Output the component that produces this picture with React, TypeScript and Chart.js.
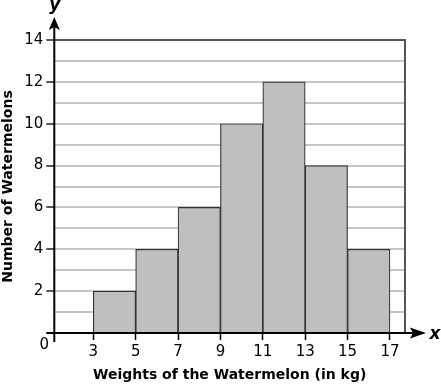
import { useEffect, useRef } from 'react';
import { Chart, registerables } from 'chart.js';

Chart.register(...registerables);

const binStarts = [3, 5, 7, 9, 11, 13, 15];
const binEnds = [5, 7, 9, 11, 13, 15, 17];
const counts = [2, 4, 6, 10, 12, 8, 4];
const xTickValues = [3, 5, 7, 9, 11, 13, 15, 17];
const yTickLabels = [2, 4, 6, 8, 10, 12, 14];
const xTitle = 'Weights of the Watermelon (in kg)';
const yTitle = 'Number of Watermelons';

const FONT = '"DejaVu Sans", Verdana, sans-serif';

const decor = {
  id: 'decor',
  afterDraw(chart: any) {
    const { ctx, chartArea: a } = chart;
    const x0 = a.left;
    const y0 = a.bottom;
    ctx.save();
    // right border
    ctx.strokeStyle = '#555';
    ctx.lineWidth = 2;
    ctx.beginPath();
    ctx.moveTo(a.right, a.top - 1);
    ctx.lineTo(a.right, y0);
    ctx.stroke();
    // y axis
    ctx.strokeStyle = '#000';
    ctx.fillStyle = '#000';
    ctx.lineWidth = 2;
    ctx.beginPath();
    ctx.moveTo(x0, y0 + 9);
    ctx.lineTo(x0, a.top - 14);
    ctx.stroke();
    ctx.beginPath();
    ctx.moveTo(x0, a.top - 23);
    ctx.lineTo(x0 + 5.5, a.top - 10);
    ctx.lineTo(x0, a.top - 13);
    ctx.lineTo(x0 - 5.5, a.top - 10);
    ctx.closePath();
    ctx.fill();
    // x axis
    ctx.beginPath();
    ctx.moveTo(x0 - 8, y0);
    ctx.lineTo(a.right + 10, y0);
    ctx.stroke();
    ctx.beginPath();
    ctx.moveTo(a.right + 21, y0);
    ctx.lineTo(a.right + 5, y0 - 5.5);
    ctx.lineTo(a.right + 8, y0);
    ctx.lineTo(a.right + 5, y0 + 5.5);
    ctx.closePath();
    ctx.fill();
    // labels
    ctx.font = `italic bold 17px ${FONT}`;
    ctx.textAlign = 'center';
    ctx.textBaseline = 'alphabetic';
    ctx.fillText('x', a.right + 30, y0 + 6);
    ctx.fillText('y', x0 + 0.5, 10);
    ctx.font = `15px ${FONT}`;
    ctx.textBaseline = 'middle';
    ctx.fillText('0', x0 - 10, y0 + 12);
    ctx.restore();
  },
};

export default function App() {
  const ref = useRef<HTMLCanvasElement | null>(null);
  useEffect(() => {
    if (!ref.current) return;
    const data = binStarts.map((s, i) => ({ x: (s + binEnds[i]) / 2, y: counts[i] }));
    const chart = new Chart(ref.current, {
      type: 'bar',
      data: {
        datasets: [
          {
            data: data as any,
            backgroundColor: '#bfbfbf',
            borderColor: '#333',
            borderWidth: 1.2,
            barPercentage: 1,
            categoryPercentage: 1,
          },
        ],
      },
      plugins: [decor],
      options: {
        animation: false,
        responsive: false,
        layout: { padding: { left: 0, right: 36, top: 40, bottom: 0 } },
        plugins: { legend: { display: false }, tooltip: { enabled: false } },
        scales: {
          x: {
            type: 'linear',
            min: 1.16,
            max: 17.71,
            offset: false,
            afterFit: (s: any) => {
              s.height = 51;
            },
            afterBuildTicks: (s: any) => {
              s.ticks = xTickValues.map((v) => ({ value: v }));
            },
            border: { display: false },
            grid: {
              drawOnChartArea: false,
              drawTicks: true,
              tickLength: 7,
              tickColor: '#000',
              tickWidth: 1.5,
              offset: false,
            },
            ticks: {
              autoSkip: false,
              maxRotation: 0,
              padding: 3,
              color: '#000',
              font: { family: FONT, size: 15 },
              callback: (v: any) => String(v),
            },
            title: {
              display: true,
              text: xTitle,
              color: '#000',
              padding: 0,
              font: { family: FONT, size: 14, weight: 'bold' },
            },
          },
          y: {
            type: 'linear',
            min: 0,
            max: 14,
            afterFit: (s: any) => {
              s.width = 54.3;
            },
            border: { display: false },
            grid: {
              color: (c: any) =>
                c.tick.value === 0 ? 'rgba(0,0,0,0)' : c.tick.value === 14 ? '#555' : '#c6c6c6',
              lineWidth: 2,
              tickLength: 8,
              tickWidth: 1.5,
              tickColor: (c: any) => (yTickLabels.includes(c.tick.value) ? '#222' : 'rgba(0,0,0,0)'),
            },
            ticks: {
              stepSize: 1,
              autoSkip: false,
              padding: 3,
              color: '#000',
              font: { family: FONT, size: 15 },
              callback: (v: any) => (yTickLabels.includes(v) ? String(v) : ''),
            },
            title: {
              display: true,
              text: yTitle,
              color: '#000',
              padding: 0,
              font: { family: FONT, size: 14, weight: 'bold' },
            },
          },
        },
      },
    });
    return () => chart.destroy();
  }, []);
  return (
    <div style={{ position: 'absolute', left: 0, top: 0, width: 441, height: 384 }}>
      <canvas ref={ref} width={441} height={384} style={{ display: 'block' }} />
    </div>
  );
}
